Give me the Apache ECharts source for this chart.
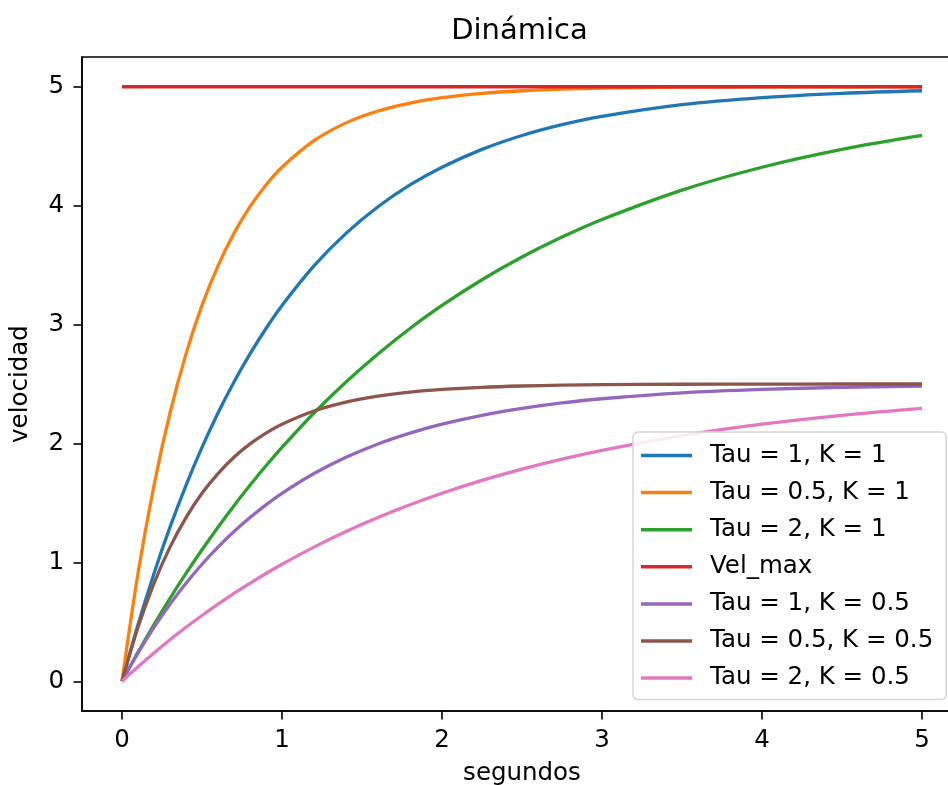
<!DOCTYPE html>
<html>
<head>
<meta charset="utf-8">
<script src="https://cdn.jsdelivr.net/npm/echarts@6/dist/echarts.min.js"></script>
<style>html,body{margin:0;padding:0;background:#fff;}#c{width:948px;height:785px;}</style>
</head>
<body>
<div id="c"></div>
<script>
var t = [0, 0.1, 0.2, 0.3, 0.4, 0.5, 0.6, 0.7, 0.8, 0.9, 1.0, 1.2, 1.4, 1.6, 1.8, 2.0, 2.25, 2.5, 2.75, 3.0, 3.5, 4.0, 4.5, 5.0];
var tau1K1 = [0, 0.476, 0.907, 1.296, 1.648, 1.967, 2.256, 2.517, 2.753, 2.967, 3.161, 3.494, 3.767, 3.991, 4.174, 4.323, 4.473, 4.590, 4.681, 4.751, 4.849, 4.908, 4.944, 4.966];
var tau05K1 = [0, 0.907, 1.648, 2.256, 2.753, 3.161, 3.494, 3.767, 3.991, 4.174, 4.323, 4.546, 4.696, 4.796, 4.863, 4.908, 4.944, 4.966, 4.980, 4.988, 4.996, 4.998, 5.0, 5.0];
var tau2K1 = [0, 0.244, 0.476, 0.697, 0.907, 1.106, 1.296, 1.477, 1.648, 1.812, 1.967, 2.256, 2.517, 2.753, 2.967, 3.161, 3.377, 3.568, 3.736, 3.884, 4.131, 4.323, 4.473, 4.590];
var velMax = [5, 5, 5, 5, 5, 5, 5, 5, 5, 5, 5, 5, 5, 5, 5, 5, 5, 5, 5, 5, 5, 5, 5, 5];
var tau1K05 = [0, 0.238, 0.454, 0.648, 0.824, 0.984, 1.128, 1.259, 1.377, 1.484, 1.581, 1.747, 1.884, 1.996, 2.087, 2.162, 2.237, 2.295, 2.341, 2.376, 2.425, 2.454, 2.472, 2.483];
var tau05K05 = [0, 0.454, 0.824, 1.128, 1.377, 1.581, 1.747, 1.884, 1.996, 2.087, 2.162, 2.273, 2.348, 2.398, 2.432, 2.454, 2.472, 2.483, 2.490, 2.494, 2.498, 2.499, 2.5, 2.5];
var tau2K05 = [0, 0.122, 0.238, 0.349, 0.454, 0.553, 0.648, 0.739, 0.824, 0.906, 0.984, 1.128, 1.259, 1.377, 1.484, 1.581, 1.689, 1.784, 1.868, 1.942, 2.066, 2.162, 2.237, 2.295];

var seriesNames = ['Tau = 1, K = 1', 'Tau = 0.5, K = 1', 'Tau = 2, K = 1', 'Vel_max', 'Tau = 1, K = 0.5', 'Tau = 0.5, K = 0.5', 'Tau = 2, K = 0.5'];
var seriesValues = [tau1K1, tau05K1, tau2K1, velMax, tau1K05, tau05K05, tau2K05];
var colors = ['#1f77b4', '#ff7f0e', '#2ca02c', '#d62728', '#9467bd', '#8c564b', '#e377c2'];
var xTicks = [0, 1, 2, 3, 4, 5];
var yTicks = [0, 1, 2, 3, 4, 5];

var FONT = 'DejaVu Sans';
var FS = 24.5;
var chart = echarts.init(document.getElementById('c'), null, {renderer: 'canvas'});

var series = seriesNames.map(function (name, i) {
  return {
    name: name,
    type: 'line',
    data: t.map(function (x, j) { return [x, seriesValues[i][j]]; }),
    symbol: 'none',
    smooth: 0.35,
    lineStyle: {width: 3.3, color: colors[i]},
    itemStyle: {color: colors[i]},
    animation: false
  };
});

chart.setOption({
  animation: false,
  backgroundColor: '#fff',
  title: {
    text: 'Dinámica',
    left: 514.5,
    top: 12,
    textAlign: 'center',
    textStyle: {fontFamily: FONT, fontSize: 29, fontWeight: 'normal', color: '#000'}
  },
  grid: {
    left: 82, top: 57, width: 880, height: 654,
    outerBoundsMode: 'none',
    containLabel: false,
    show: true, borderColor: '#000', borderWidth: 1.6, backgroundColor: '#fff'
  },
  legend: {
    orient: 'vertical',
    left: 633, top: 432,
    padding: [11, 13, 9, 8],
    icon: 'rect',
    itemWidth: 51, itemHeight: 3.5, itemGap: 12.1,
    backgroundColor: 'rgba(255,255,255,0.85)',
    borderColor: '#d6d6d6', borderWidth: 1.5, borderRadius: 5,
    textStyle: {fontFamily: FONT, fontSize: FS, lineHeight: 24, color: '#000', padding: [0, 0, 0, 13]},
    data: seriesNames
  },
  xAxis: {
    type: 'value', min: -0.25, max: 5.25,
    name: 'segundos', nameLocation: 'middle', nameGap: 50,
    nameTextStyle: {fontFamily: FONT, fontSize: FS, color: '#000'},
    axisLine: {show: true, onZero: false, lineStyle: {color: '#000', width: 1.6}},
    axisTick: {show: true, length: 8.5, lineStyle: {color: '#000', width: 1.6}, customValues: xTicks},
    axisLabel: {fontFamily: FONT, fontSize: FS, color: '#000', margin: 17, customValues: xTicks},
    splitLine: {show: false}
  },
  yAxis: {
    type: 'value', min: -0.25, max: 5.25,
    name: 'velocidad', nameLocation: 'middle', nameGap: 49, nameRotate: 90,
    nameTextStyle: {fontFamily: FONT, fontSize: FS, color: '#000'},
    axisLine: {show: true, onZero: false, lineStyle: {color: '#000', width: 1.6}},
    axisTick: {show: true, length: 8.5, lineStyle: {color: '#000', width: 1.6}, customValues: yTicks},
    axisLabel: {fontFamily: FONT, fontSize: FS, color: '#000', margin: 18, customValues: yTicks},
    splitLine: {show: false}
  },
  series: series
});
</script>
</body>
</html>
